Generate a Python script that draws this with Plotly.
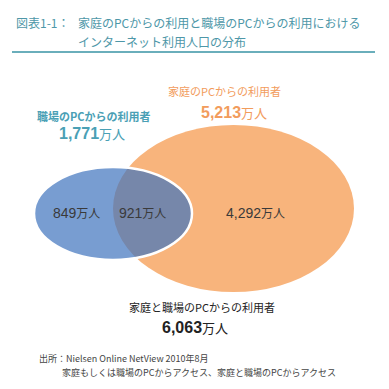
import plotly.graph_objects as go

# ---- data ----
segment_names = ["職場のみ", "家庭と職場", "家庭のみ"]
segment_values = [849, 921, 4292]          # 万人
group_names = ["職場のPCからの利用者", "家庭のPCからの利用者", "家庭と職場のPCからの利用者"]
group_values = [1771, 5213, 6063]          # 万人
unit = "万人"

title_l1 = "家庭のPCからの利用と職場のPCからの利用における"
title_l2 = "インターネット利用人口の分布"
title_prefix = "図表1-1："
source_l1 = "出所：Nielsen Online NetView 2010年8月"
source_l2 = "家庭もしくは職場のPCからアクセス、家庭と職場のPCからアクセス"

FONT = "Liberation Sans, Arial, Noto Sans CJK JP"
JP = "Noto Sans CJK JP, Liberation Sans"

def fmt(v, big=15, small=12, bold=True):
    n = f"{v:,}"
    if bold:
        n = f"<b>{n}</b>"
    return f"<span style='font-size:{big}px'>{n}</span><span style='font-size:{small}px'>{unit}</span>"

fig = go.Figure()
fig.add_trace(go.Scatter(x=[0], y=[0], mode="markers", marker=dict(opacity=0), hoverinfo="skip", showlegend=False))

shapes = [
    # orange ellipse (home)
    dict(type="circle", xref="x", yref="y", x0=113, x1=354, y0=125, y1=292,
         fillcolor="#f8b47c", line=dict(width=0), layer="below"),
    # blue ellipse (work)
    dict(type="circle", xref="x", yref="y", x0=34, x1=192, y0=167, y1=260,
         fillcolor="rgba(62,116,190,0.70)", line=dict(color="white", width=2.5), layer="below"),
    # title underline
    dict(type="line", xref="x", yref="y", x0=12, x1=375, y0=52, y1=52,
         line=dict(color="#6aaebb", width=2)),
]

teal = "#4aa0b5"
tcol = "#4e97a8"
orange = "#f29c5c"
dark = "#3a3a3a"

ann = []
def add(x, y, text, size, color, xanchor="center", family=FONT):
    ann.append(dict(x=x, y=y, xref="x", yref="y", text=text, showarrow=False,
                    font=dict(size=size, color=color, family=family),
                    xanchor=xanchor, yanchor="middle"))

# title
add(14, 22, title_prefix, 12, tcol, "left", JP)
add(76, 22, title_l1, 12, tcol, "left", JP)
add(76, 41, title_l2, 12, tcol, "left", JP)

# group labels
add(94, 116, f"<b>{group_names[0]}</b>", 11, teal, family=JP)
add(92, 133, fmt(group_values[0], 16, 13), 16, teal)
add(224, 91, group_names[1], 11, orange, family=JP)
add(234, 112, fmt(group_values[1], 16, 13), 16, orange)
add(202, 307, group_names[2], 11, "#222222", family=JP)
add(195, 327, fmt(group_values[2], 16, 13), 16, "#222222")

# segment labels
add(76, 213, fmt(segment_values[0], 14, 12, bold=False), 14, dark)
add(142, 213, fmt(segment_values[1], 14, 12, bold=False), 14, dark)
add(255, 213, fmt(segment_values[2], 14, 12, bold=False), 14, dark)

# source
add(37, 358, source_l1, 9, "#444444", "left", JP)
add(60, 372, source_l2, 9, "#444444", "left", JP)

fig.update_layout(
    width=389, height=389, autosize=False,
    margin=dict(l=0, r=0, t=0, b=0),
    paper_bgcolor="white", plot_bgcolor="white",
    xaxis=dict(range=[0, 389], visible=False, fixedrange=True),
    yaxis=dict(range=[389, 0], visible=False, fixedrange=True),
    shapes=shapes, annotations=ann, showlegend=False,
)
fig.write_html("out.html", config={"displayModeBar": False},
               post_script="document.body.style.margin='0';document.body.style.overflow='hidden';")
